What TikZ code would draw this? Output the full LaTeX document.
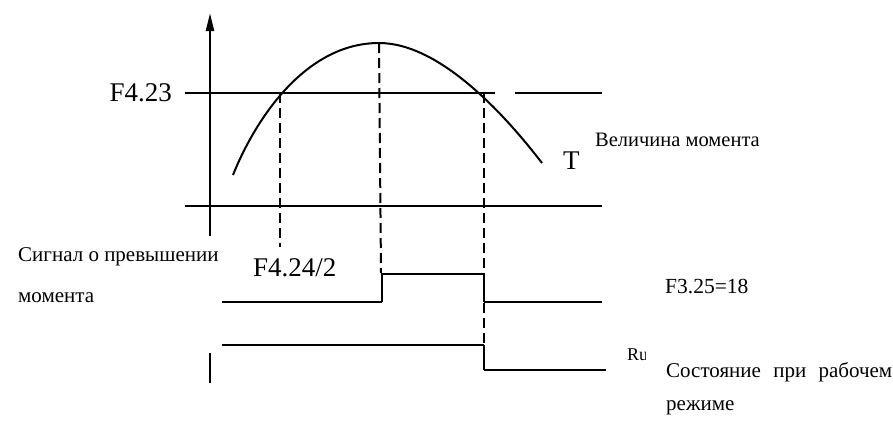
\documentclass[tikz,border=0pt]{standalone}
\usepackage{fontspec}
\setmainfont{Liberation Serif}
\usetikzlibrary{arrows.meta}

\begin{document}
\begin{tikzpicture}[x=1pt,y=-1pt,
  thinline/.style={line width=1.6pt},
  thickline/.style={line width=2.6pt},
  guide/.style={line width=2pt, dash pattern=on 10pt off 5pt},
  mask/.style={fill=white, draw=none},
  lbl/.style={inner sep=0pt, font=\fontsize{20.5}{24}\selectfont},
  big/.style={inner sep=0pt, font=\fontsize{27}{30}\selectfont}]
  \useasboundingbox (0,0) rectangle (893,421);
  \coordinate (ax0) at (210,383);
  \coordinate (ax1) at (210,13);
  \coordinate (lo) at (233,175);
  \coordinate (cl) at (280,93);
  \coordinate (pk) at (379,43);
  \coordinate (cr) at (484,93);
  \coordinate (hi) at (542,163);
  \draw[line width=2.4pt, -{Triangle[length=18pt,width=8pt]}] (ax0) -- (ax1);
  \draw[thinline] (185,93) -- (495,93);
  \draw[thinline] (515,93) -- (602,93);
  \draw[thinline] (185,206) -- (602,206);
  \draw[line width=2pt] (lo) .. controls (255,120) and (305,43) .. (pk)
    .. controls (440,43) and (505,115) .. (hi);
  \draw[guide] (cl) -- (280,247);
  \draw[guide] (pk) -- (381,273);
  \draw[guide] (cr) -- (484,370);
  \draw[thinline] (222,302) -- (382,302);
  \draw[thickline] (382,302) -- (382,274) -- (484,274) -- (484,302);
  \draw[thinline] (484,302) -- (602,302);
  \draw[thinline] (222,345) -- (484,345);
  \draw[thickline] (484,345) -- (484,370);
  \draw[thinline] (484,370) -- (606,370);
  \node[lbl, font=\fontsize{18}{20}\selectfont, anchor=base west] (ru) at (627,360) {Ru};
  \path[mask] (15,236) rectangle (222,353);
  \path[mask] (646,340) rectangle (893,421);
  \node[big, anchor=east] (f423) at (172,92.5) {F4.23};
  \node[big, anchor=base west] (f424) at (253,276) {F4.24/2};
  \node[big, anchor=west] (t) at (563,161) {T};
  \node[lbl, anchor=base west] (vel) at (595,146) {Величина момента};
  \node[lbl, anchor=north west, align=left, font=\fontsize{21}{41}\selectfont]
    (sig) at (18,247) {Сигнал о превышении\\момента};
  \node[lbl, anchor=base west, font=\fontsize{21.5}{24}\selectfont]
    (f325) at (665,293) {F3.25=18};
  \node[lbl, anchor=north west, text width=226pt, align=justify,
    font=\fontsize{21}{33}\selectfont] (st) at (666,362) {Состояние при рабочем режиме};
\end{tikzpicture}
\end{document}
